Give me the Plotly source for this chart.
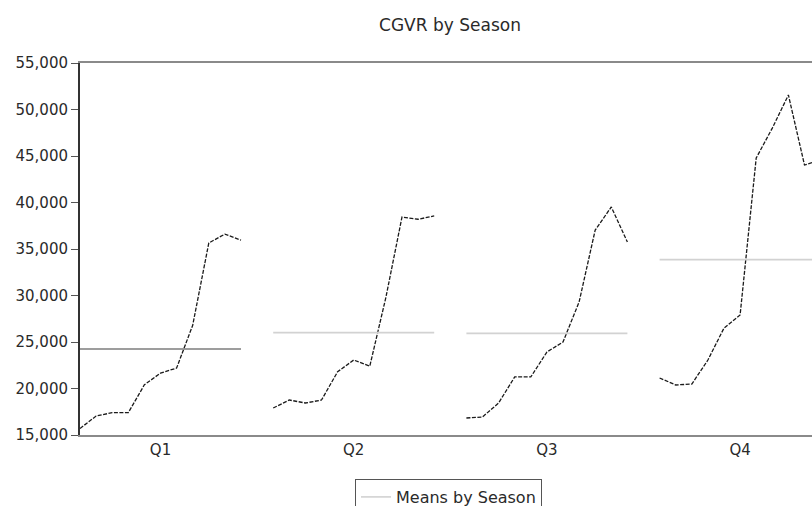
import numpy as np
import plotly.graph_objects as go

seasons = ["Q1", "Q2", "Q3", "Q4"]
q1 = [15700, 17040, 17400, 17400, 20400, 21650, 22200, 26800, 35650, 36600, 35950]
q2 = [17900, 18760, 18440, 18760, 21800, 23060, 22400, 29800, 38440, 38200, 38550]
q3 = [16830, 16940, 18440, 21240, 21240, 23920, 25000, 29300, 37040, 39520, 35750]
q4 = [21130, 20380, 20480, 23060, 26500, 27900, 44780, 48000, 51560, 44030, 44600]
series = [q1, q2, q3, q4]

y_ticks = [15000, 20000, 25000, 30000, 35000, 40000, 45000, 50000, 55000]

FONT = "DejaVu Sans"
TXT = "#2a2a2a"
n = len(q1)
block = n + 1  # spacing between season blocks in x units

fig = go.Figure()

# seasonal lines
for s, vals in enumerate(series):
    xs = [block * s + i for i in range(len(vals))]
    fig.add_trace(go.Scatter(
        x=xs, y=vals, mode="lines",
        line=dict(color="#1a1a1a", width=1.3, dash="4px,1.5px"),
        showlegend=False, hoverinfo="skip"))

# means by season
means = [float(np.mean(v)) for v in series]
for s, m in enumerate(means):
    x0 = block * s
    x1 = block * s + n - 1
    fig.add_trace(go.Scatter(
        x=[x0, x1], y=[m, m], mode="lines",
        line=dict(color="#7c7c7c" if s == 0 else "#d2d2d2", width=1.6),
        name="Means by Season", showlegend=(s == 1), hoverinfo="skip"))

W, H = 812, 506
ml, mr, mt, mb = 80, 0, 63, 71
plot_w = W - ml - mr
plot_h = H - mt - mb

fig.update_layout(
    width=W, height=H,
    margin=dict(l=ml, r=mr, t=mt, b=mb, autoexpand=False),
    paper_bgcolor="white", plot_bgcolor="white",
    font=dict(family=FONT, color=TXT, size=15),
    title=dict(text="CGVR by Season", x=450 / W, xanchor="center",
               xref="container", y=1 - 25 / H, yref="container",
               yanchor="middle", font=dict(size=17, family=FONT, color=TXT)),
    xaxis=dict(
        range=[0, plot_w / 16.1], automargin=False,
        tickvals=[block * s + (n - 1) / 2 for s in range(4)],
        ticktext=seasons, ticks="", showgrid=False, zeroline=False,
        showline=True, mirror=True, linecolor="#8a8a8a", linewidth=1.5,
        tickfont=dict(size=15, family=FONT, color=TXT)),
    yaxis=dict(
        range=[15000, 55000], tickvals=y_ticks, automargin=False,
        ticktext=[f"{v:,}" for v in y_ticks],
        ticks="outside", ticklen=7, tickcolor="#555555", tickwidth=1,
        showgrid=False, zeroline=False,
        showline=True, linecolor="#333333", linewidth=2,
        tickfont=dict(size=15, family=FONT, color=TXT)),
    legend=dict(
        x=(355 - ml) / plot_w, y=(435 - 479) / plot_h,
        xanchor="left", yanchor="top", orientation="h",
        bordercolor="#555555", borderwidth=1, bgcolor="white",
        font=dict(size=16, family=FONT, color=TXT)),
)

fig.write_html(
    "out.html",
    config={"displayModeBar": False},
    post_script="document.body.style.margin='0';document.body.style.overflow='hidden';")
